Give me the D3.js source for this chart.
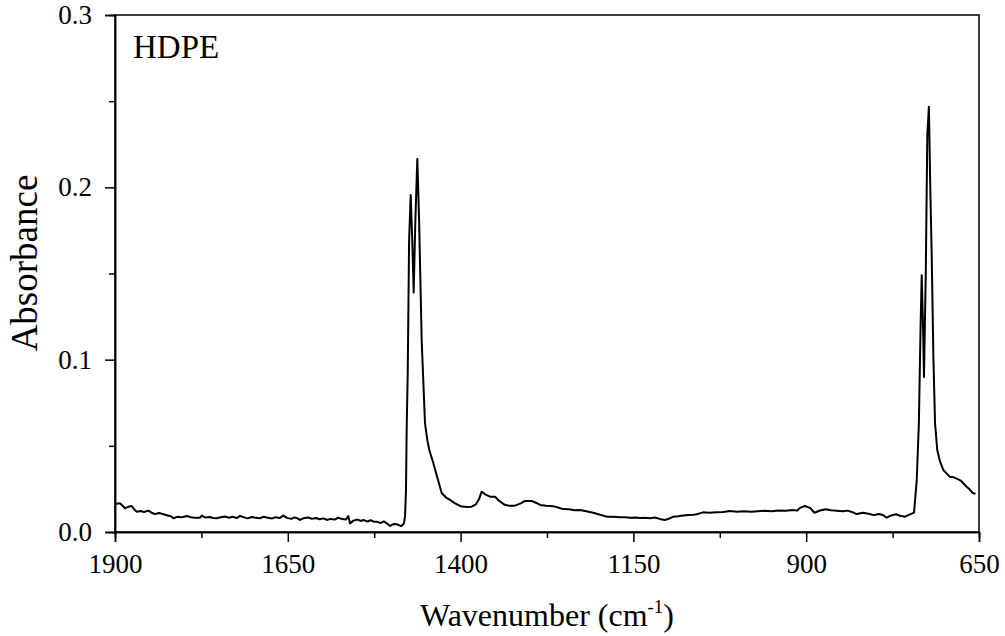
<!DOCTYPE html>
<html><head><meta charset="utf-8">
<script src="https://cdn.jsdelivr.net/npm/d3@7"></script>
<style>body{margin:0;background:#fff}svg{display:block}</style>
</head><body>
<script>
// Spectrum data (wavenumber in cm^-1, absorbance)
const wavenumber = [1900,1896,1892.8,1889,1885.5,1881,1875.8,1872,1868.6,1863,1858,1851.8,1847,1842,1836,1830,1824,1819,1815.7,1810,1804,1799,1796,1790,1784,1777,1774.6,1769,1763,1758,1752.9,1747,1741,1735,1730,1724,1719,1713,1708,1702,1696,1690,1685,1679,1673,1668,1662,1656.5,1651,1645,1640,1636,1632.4,1627,1621,1615,1609,1604,1598,1593.7,1588,1582,1576.9,1571,1566,1562.5,1560,1555,1549,1544,1540.8,1535,1530,1525,1521.4,1516,1511,1506,1502,1497,1492.5,1488,1485.2,1482,1480.4,1479,1478,1476.5,1474.5,1472.2,1470,1467.9,1465.5,1462.6,1460,1456.3,1451.5,1448,1445.3,1439.5,1434,1427.4,1421,1415.3,1408,1400,1391.2,1384,1378,1373,1369.5,1363,1357.5,1350.2,1344,1337,1331,1321.3,1313,1306.8,1297.1,1291,1285.1,1276,1266.3,1259,1251.9,1243,1235,1227.3,1218,1208.4,1198,1188.6,1179,1170,1162,1154.9,1147,1140,1133,1126,1119,1112,1104.3,1098,1092.7,1085,1078,1070,1063,1058.4,1049.3,1040,1030,1020,1010.3,1000,990,980,970,960,950,940,930,919.1,913,909,902,894.5,888,880,872,864,856,846.7,840,833,826.9,818,810,802,795,789,783.5,777,770,764.3,757,749.8,744,740.1,737,734.5,732.9,731,729.6,727,724.8,722.5,720.5,718.4,716,713.6,710.4,706.5,701.7,697,692,687,682.3,677,672,667.8,663,659,655,651.1,650];
const absorbance = [0.0161,0.0165,0.0167,0.0152,0.0138,0.0146,0.0151,0.0130,0.0118,0.0122,0.0116,0.0124,0.0112,0.0104,0.0110,0.0103,0.0096,0.0092,0.0080,0.0088,0.0085,0.0090,0.0093,0.0086,0.0082,0.0083,0.0095,0.0084,0.0087,0.0081,0.0080,0.0086,0.0090,0.0083,0.0088,0.0081,0.0093,0.0085,0.0079,0.0087,0.0082,0.0080,0.0089,0.0083,0.0078,0.0086,0.0081,0.0095,0.0082,0.0076,0.0085,0.0079,0.0070,0.0080,0.0084,0.0077,0.0081,0.0074,0.0079,0.0070,0.0076,0.0072,0.0083,0.0075,0.0072,0.0093,0.0050,0.0066,0.0072,0.0064,0.0070,0.0061,0.0068,0.0059,0.0060,0.0052,0.0062,0.0048,0.0035,0.0046,0.0045,0.0038,0.0035,0.0050,0.0089,0.0240,0.0600,0.0920,0.1690,0.1956,0.1700,0.1390,0.1800,0.2165,0.1800,0.1110,0.0630,0.0530,0.0476,0.0400,0.0320,0.0226,0.0200,0.0186,0.0166,0.0150,0.0145,0.0147,0.0160,0.0195,0.0234,0.0215,0.0205,0.0205,0.0180,0.0160,0.0153,0.0153,0.0166,0.0180,0.0180,0.0170,0.0157,0.0152,0.0150,0.0142,0.0133,0.0132,0.0126,0.0128,0.0120,0.0112,0.0100,0.0089,0.0088,0.0085,0.0086,0.0083,0.0084,0.0081,0.0083,0.0080,0.0084,0.0076,0.0070,0.0078,0.0089,0.0092,0.0096,0.0099,0.0100,0.0103,0.0114,0.0112,0.0115,0.0116,0.0122,0.0118,0.0120,0.0118,0.0121,0.0123,0.0120,0.0125,0.0124,0.0128,0.0124,0.0140,0.0151,0.0140,0.0112,0.0125,0.0132,0.0126,0.0124,0.0121,0.0124,0.0115,0.0104,0.0112,0.0106,0.0098,0.0105,0.0099,0.0083,0.0096,0.0103,0.0094,0.0089,0.0102,0.0112,0.0300,0.0630,0.1200,0.1490,0.1200,0.0900,0.1500,0.2300,0.2468,0.2000,0.1600,0.1017,0.0630,0.0476,0.0410,0.0360,0.0340,0.0320,0.0318,0.0310,0.0300,0.0280,0.0262,0.0245,0.0226,0.0222];

const xTickLabels = [1900,1650,1400,1150,900,650];
const xMinorTicks = [1775,1525,1275,1025,775];
const yTickLabels = [0.0,0.1,0.2,0.3];
const yMinorTicks = [0.05,0.15,0.25];
const sampleLabel = "HDPE";

const W = 1005, H = 636;
const m = {left:115, right:26, top:15, bottom:104};
const x = d3.scaleLinear().domain([1900,650]).range([m.left, W-m.right]);
const y = d3.scaleLinear().domain([0,0.3]).range([H-m.bottom, m.top]);

const svg = d3.select("body").append("svg").attr("width",W).attr("height",H)
  .style("font-family","'Liberation Serif','Times New Roman',serif");
const font = "'Liberation Serif','Times New Roman',serif";

// frame
svg.append("rect").attr("x",m.left).attr("y",m.top)
  .attr("width",W-m.left-m.right).attr("height",H-m.top-m.bottom)
  .attr("fill","none").attr("stroke","#000").attr("stroke-width",1.5);

const xAxis = svg.append("g").attr("transform",`translate(0,${H-m.bottom})`)
  .call(d3.axisBottom(x).tickValues(xTickLabels).tickSize(10).tickPadding(12).tickFormat(d3.format("d")));
const xMinor = svg.append("g").attr("transform",`translate(0,${H-m.bottom})`)
  .call(d3.axisBottom(x).tickValues(xMinorTicks).tickSize(6).tickFormat(""));
const yAxis = svg.append("g").attr("transform",`translate(${m.left},0)`)
  .call(d3.axisLeft(y).tickValues(yTickLabels).tickSize(10).tickPadding(13).tickFormat(d3.format(".1f")));
const yMinor = svg.append("g").attr("transform",`translate(${m.left},0)`)
  .call(d3.axisLeft(y).tickValues(yMinorTicks).tickSize(6).tickFormat(""));

[xAxis,xMinor,yAxis,yMinor].forEach(g=>{
  g.attr("font-family",font).attr("font-size",27);
  g.select(".domain").attr("stroke","#000").attr("stroke-width",1.5);
  g.selectAll(".tick line").attr("stroke","#000").attr("stroke-width",1.5);
  g.selectAll(".tick text").attr("font-family",font).attr("font-size",27).attr("fill","#000");
});

const data = wavenumber.map((w,i)=>({w, a:absorbance[i]}));
svg.append("path").datum(data)
  .attr("fill","none").attr("stroke","#000").attr("stroke-width",2)
  .attr("stroke-linejoin","round")
  .attr("d", d3.line().x(d=>x(d.w)).y(d=>y(d.a)));

svg.append("text").attr("x",133).attr("y",58)
  .attr("font-family",font).attr("font-size",33).text(sampleLabel);

const xt = svg.append("text").attr("x",547).attr("y",626)
  .attr("text-anchor","middle").attr("font-family",font).attr("font-size",32);
xt.append("tspan").text("Wavenumber (cm");
xt.append("tspan").attr("font-size",19).attr("dy",-13).text("-1");
xt.append("tspan").attr("dy",13).text(")");

svg.append("text").attr("transform",`translate(37,263) rotate(-90)`)
  .attr("text-anchor","middle").attr("font-family",font).attr("font-size",37).text("Absorbance");
</script>
</body></html>
